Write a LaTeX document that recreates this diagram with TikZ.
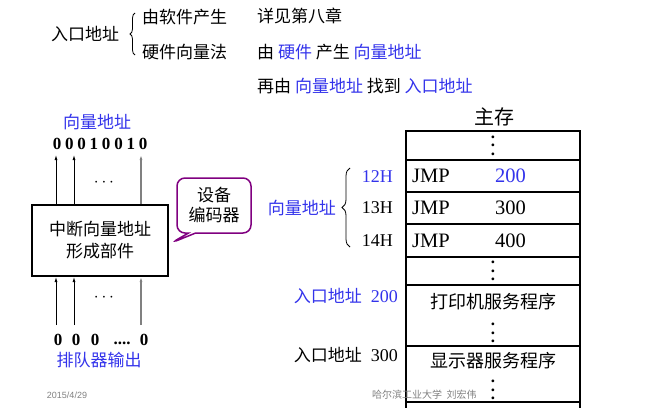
\documentclass[tikz,border=0pt]{standalone}
\usepackage{fontspec}
\setmainfont{Liberation Serif}
\newfontfamily\cjk{Noto Sans CJK SC}
\newfontfamily\lsans{Liberation Sans}
\usetikzlibrary{arrows.meta,positioning,shapes.callouts,decorations.pathreplacing}
\definecolor{vblue}{RGB}{51,51,235}
\definecolor{callpurple}{RGB}{128,0,128}
\definecolor{footgray}{RGB}{128,128,128}
\tikzset{
  zh/.style={inner sep=0pt, font=\cjk\fontsize{17}{20}\selectfont},
  num/.style={inner sep=0pt, font=\fontsize{20.5}{22}\selectfont},
  addr/.style={inner sep=0pt, anchor=east, font=\fontsize{18}{20}\selectfont},
  bit/.style={inner sep=0pt, font=\bfseries\fontsize{17}{20}\selectfont},
  cell/.style={draw, line width=2pt, minimum width=174pt, inner sep=0pt, outer sep=0pt, anchor=north},
  vdot/.style={inner sep=0pt, align=center, font=\bfseries\fontsize{17}{8.5}\selectfont},
  up/.style={-{Latex[length=5pt,width=3pt]}, line width=0.8pt},
  updim/.style={up, draw=gray, line width=1.2pt},
  brc/.style={decorate, decoration={brace, amplitude=#1}, line width=0.8pt},
}
\begin{document}
\begin{tikzpicture}[x=1pt,y=-1pt]
\useasboundingbox (0,0) rectangle (645,407);
% top lines
\node[zh, anchor=west] (entry) at (51,34) {入口地址};
\draw[brc=5pt] (135,55) -- (135,13);
\node[zh, anchor=west] (soft) at (142,17) {由软件产生};
\node[zh, anchor=west] (hard) at (142,52) {硬件向量法};
\node[zh, anchor=west] (see) at (257,16) {详见第八章};
\node[zh, anchor=west] (gen) at (257,52) {由 \textcolor{vblue}{硬件} 产生 \textcolor{vblue}{向量地址}};
\node[zh, anchor=west] (find) at (257,86) {再由 \textcolor{vblue}{向量地址} 找到 \textcolor{vblue}{入口地址}};

% former
\node[draw, line width=2pt, minimum width=136pt, minimum height=71pt, inner sep=0pt, align=center,
  font=\cjk\fontsize{17}{22}\selectfont] (former) at (100,240.5) {中断向量地址\\形成部件};
\node[zh, text=vblue] (vaddr) at (97,122) {向量地址};
\foreach \b [count=\i] in {0,0,0,1,0,0,1,0}
  \node[bit] (b\i) at ({57+12.3*(\i-1)},144) {\b};
\coordinate (t1) at (56,155);
\coordinate (t2) at (74,155);
\coordinate (t3) at (141,155);
\draw[up] (former.north -| t1) -- (t1);
\draw[up] (former.north -| t2) -- (t2);
\draw[updim] (former.north -| t3) -- (t3);
\node[bit] (topdots) at (104,183) {$\cdots$};
\coordinate (s1) at (56,325);
\coordinate (s2) at (74,325);
\coordinate (s3) at (141,325);
\draw[up] (s1) -- (former.south -| s1);
\draw[up] (s2) -- (former.south -| s2);
\draw[updim] (s3) -- (former.south -| s3);
\node[bit] (botdots) at (104,298) {$\cdots$};
\node[bit] (q1) at (58,340) {0};
\node[bit] (q2) at (76,340) {0};
\node[bit] (q3) at (95,340) {0};
\node[bit] (qd) at (122,343) {....};
\node[bit] (q4) at (144,340) {0};
\node[zh, text=vblue] (queue) at (99,360) {排队器输出};
\node[inner sep=0pt, text=footgray, font=\lsans\fontsize{9}{10}\selectfont] (date) at (67,395) {2015/4/29};

% callout
\node[rectangle callout, draw=callpurple, line width=1.5pt, rounded corners=8pt, minimum width=74pt,
  minimum height=55pt, inner sep=0pt, align=center, font=\cjk\fontsize{17}{20}\selectfont,
  callout absolute pointer={(171,243)}] (encoder) at (214,205.5) {设备\\编码器};

% main memory
\node[inner sep=0pt, font=\cjk\fontsize{20}{22}\selectfont] (mainmem) at (494,117) {主存};
\node[cell, minimum height=29pt] (r0) at (493,131) {};
\node[cell, minimum height=32pt, below=0pt of r0] (r1) {};
\node[cell, minimum height=32pt, below=0pt of r1] (r2) {};
\node[cell, minimum height=33pt, below=0pt of r2] (r3) {};
\node[cell, minimum height=28pt, below=0pt of r3] (r4) {};
\node[cell, minimum height=61pt, below=0pt of r4] (r5) {};
\node[cell, minimum height=56pt, below=0pt of r5] (r6) {};
\node[cell, minimum height=30pt, below=0pt of r6] (r7) {};
\node[vdot] (d0) at (r0.center) {.\\.\\.};
\node[vdot] (d4) at (r4.center) {.\\.\\.};
\node[vdot] (d5) at ([yshift=-17.5pt]r5.center) {.\\.\\.};
\node[vdot] (d6) at ([yshift=-16pt]r6.center) {.\\.\\.};
\node[zh, font=\cjk\fontsize{18}{20}\selectfont] (printer) at ([yshift=13.5pt]r5.center) {打印机服务程序};
\node[zh, font=\cjk\fontsize{18}{20}\selectfont] (display) at ([yshift=13pt]r6.center) {显示器服务程序};
\node[num, anchor=west] (jmp1) at ([xshift=6pt]r1.west) {JMP};
\node[num, anchor=west] (jmp2) at ([xshift=6pt]r2.west) {JMP};
\node[num, anchor=west] (jmp3) at ([xshift=6pt]r3.west) {JMP};
\node[num, anchor=west, text=vblue] (n1) at ([xshift=89pt]r1.west) {200};
\node[num, anchor=west] (n2) at ([xshift=89pt]r2.west) {300};
\node[num, anchor=west] (n3) at ([xshift=89pt]r3.west) {400};
\node[addr, text=vblue] (a12) at (393,177) {12H};
\node[addr] (a13) at (393,208) {13H};
\node[addr] (a14) at (393,241) {14H};
\draw[brc=8pt] (350,247) -- (350,168);
\node[zh, text=vblue, anchor=east] (vaddr2) at (336,208) {向量地址};
\node[zh, text=vblue, anchor=east] (ent200) at (398,296) {入口地址\hspace{9pt}{\rmfamily\fontsize{18}{20}\selectfont 200}};
\node[zh, anchor=east] (ent300) at (398,355) {入口地址\hspace{9pt}{\rmfamily\fontsize{18}{20}\selectfont 300}};
\node[inner sep=0pt, text=footgray, anchor=west, font=\cjk\fontsize{10}{12}\selectfont] (credit) at (372,395) {哈尔滨工业大学~~刘宏伟};
\end{tikzpicture}
\end{document}
